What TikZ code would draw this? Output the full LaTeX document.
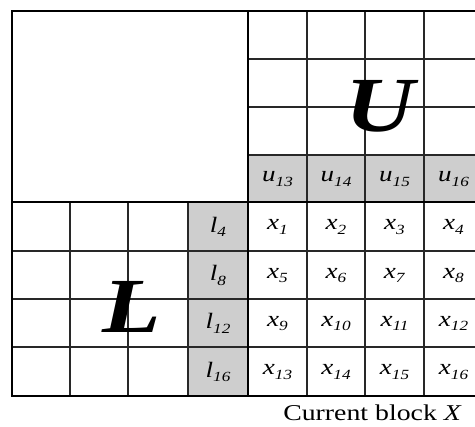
\documentclass[tikz,border=0pt]{standalone}
\usepackage{fontspec}
\setmainfont{Liberation Serif}
\usepackage{graphicx}
\definecolor{cellgray}{RGB}{206,206,206}
\definecolor{gridline}{RGB}{40,40,40}
\newcommand\sublbl[2]{\scalebox{1.23}[1]{\fontsize{22}{22}\selectfont\textit{#1}\raisebox{-4.5pt}{\fontsize{14}{14}\selectfont\textit{#2}}}}
\tikzset{
  thinline/.style={draw=gridline, line width=1.5pt},
  thickline/.style={draw=black, line width=2.8pt},
  lbl/.style={inner sep=0pt, anchor=center},
  bigletter/.style={inner sep=0pt, anchor=center, font=\fontsize{78}{78}\selectfont\bfseries\itshape},
}
\begin{document}
\begin{tikzpicture}[x=1pt,y=-1pt]
\useasboundingbox (0,0) rectangle (475,427);
\begin{scope}
\clip (0,0) rectangle (475,427);
\fill[cellgray] (248,155) rectangle (483,202);
\fill[cellgray] (188,202) rectangle (248,396);
% thin grid lines
\foreach \x in {307,365,424} \draw[thinline] (\x,11) -- (\x,396);
\foreach \y in {59,107,155} \draw[thinline] (248,\y) -- (483,\y);
\foreach \y in {251,299,347} \draw[thinline] (12,\y) -- (483,\y);
\foreach \x in {70,128,188} \draw[thinline] (\x,202) -- (\x,396);
% thick lines
\draw[thickline] (12,11) rectangle (483,396);
\draw[thickline] (248,11) -- (248,396);
\draw[thickline] (12,202) -- (483,202);
\end{scope}
% labels of the current block
\foreach \r/\cy in {0/227,1/275.5,2/323.5,3/372}{
  \foreach \c/\cx in {0/277.5,1/336,2/394.5,3/453.5}{
    \pgfmathtruncatemacro{\idx}{4*\r+\c+1}
    \node[lbl] (x\idx) at (\cx,\cy) {\sublbl{x}{\idx}};
  }
}
\foreach \c/\cx in {0/277.5,1/336,2/394.5,3/453.5}{
  \pgfmathtruncatemacro{\idx}{13+\c}
  \node[lbl] (u\idx) at (\cx,179) {\sublbl{u}{\idx}};
}
\foreach \r/\cy in {0/227,1/275.5,2/323.5,3/372}{
  \pgfmathtruncatemacro{\idx}{4*\r+4}
  \node[lbl] (l\idx) at (218,\cy) {\sublbl{l}{\idx}};
}
\node[bigletter] (U) at (380,106) {\scalebox{1.23}[1]{U}};
\node[bigletter] (L) at (132,307) {\scalebox{1.23}[1]{L}};
\node[lbl] (cap) at (372.5,413) {\scalebox{1.23}[1]{\fontsize{22.6}{24}\selectfont Current block \textit{X}}};
\end{tikzpicture}
\end{document}
